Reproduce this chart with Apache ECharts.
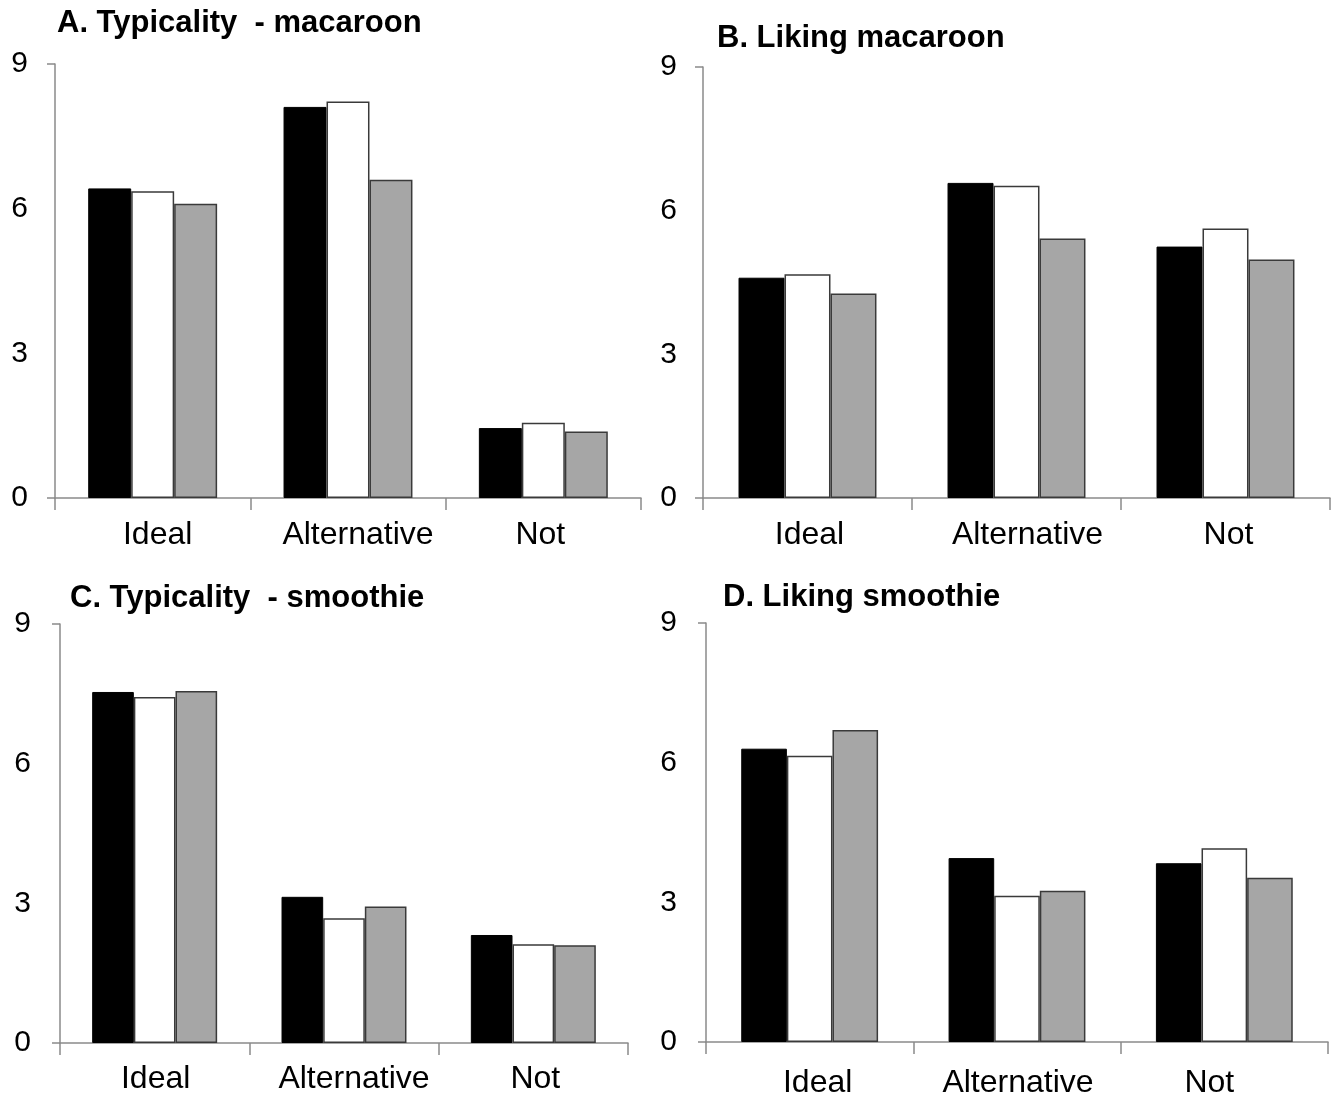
<!DOCTYPE html>
<html>
<head>
<meta charset="utf-8">
<title>Typicality and liking ratings</title>
<script src="https://cdn.jsdelivr.net/npm/echarts@6/dist/echarts.min.js"></script>
<style>
  html, body { margin: 0; padding: 0; background: #fff; }
  #chart { width: 1331px; height: 1099px; }
</style>
</head>
<body>
<div id="chart"></div>
<script>
// Categories and tick values shared by all four panels
const categories = ['Ideal', 'Alternative', 'Not'];
const yTicks = [0, 3, 6, 9];

// A. Typicality - macaroon
const typMacaroonBlack = [6.42, 8.11, 1.45];
const typMacaroonWhite = [6.36, 8.22, 1.56];
const typMacaroonGrey  = [6.10, 6.60, 1.38];

// B. Liking macaroon
const likMacaroonBlack = [4.60, 6.58, 5.25];
const likMacaroonWhite = [4.67, 6.52, 5.63];
const likMacaroonGrey  = [4.27, 5.42, 4.98];

// C. Typicality - smoothie
const typSmoothieBlack = [7.54, 3.14, 2.32];
const typSmoothieWhite = [7.43, 2.68, 2.12];
const typSmoothieGrey  = [7.56, 2.93, 2.10];

// D. Liking smoothie
const likSmoothieBlack = [6.30, 3.95, 3.84];
const likSmoothieWhite = [6.15, 3.14, 4.16];
const likSmoothieGrey  = [6.70, 3.25, 3.53];

const FONT = "'Liberation Sans', Arial, sans-serif";
const AXIS_COLOR = '#8a8a8a';
const CAT_FONT = 32;

// per-panel layout; labelShift nudges each category label sideways (px)
const panels = [
  { title: 'A. Typicality  - macaroon', tLeft: 57, tTop: 8,
    grid: { left: 55, right: 690, top: 64, bottom: 601 },
    yMargin: 27, xMargin: 21, labelShift: [5, 10, -3],
    data: [typMacaroonBlack, typMacaroonWhite, typMacaroonGrey] },
  { title: 'B. Liking macaroon', tLeft: 717, tTop: 23,
    grid: { left: 703, right: 1, top: 67, bottom: 601 },
    yMargin: 26, xMargin: 21, labelShift: [2, 11, 3],
    data: [likMacaroonBlack, likMacaroonWhite, likMacaroonGrey] },
  { title: 'C. Typicality  - smoothie', tLeft: 70, tTop: 583,
    grid: { left: 60, right: 703, top: 624, bottom: 56 },
    yMargin: 29, xMargin: 20, labelShift: [1, 10, 2],
    data: [typSmoothieBlack, typSmoothieWhite, typSmoothieGrey] },
  { title: 'D. Liking smoothie', tLeft: 723, tTop: 582,
    grid: { left: 706, right: 3, top: 623, bottom: 57 },
    yMargin: 29, xMargin: 25, labelShift: [8, 1, -15],
    data: [likSmoothieBlack, likSmoothieWhite, likSmoothieGrey] }
];

const barStyles = [
  { color: '#000000', borderColor: '#000000', borderWidth: 1 },
  { color: '#ffffff', borderColor: '#3a3a3a', borderWidth: 1.5 },
  { color: '#a6a6a6', borderColor: '#3a3a3a', borderWidth: 1.5 }
];

function shiftedRich(shifts) {
  const rich = {};
  shifts.forEach((dx, k) => {
    rich['s' + k] = {
      fontFamily: FONT, fontSize: CAT_FONT, color: '#000',
      padding: dx >= 0 ? [0, 0, 0, 2 * dx] : [0, -2 * dx, 0, 0]
    };
  });
  return rich;
}

const option = {
  backgroundColor: '#ffffff',
  animation: false,
  title: [], grid: [], xAxis: [], yAxis: [], series: []
};

panels.forEach((p, i) => {
  option.title.push({
    text: p.title, left: p.tLeft, top: p.tTop, padding: 0,
    textStyle: { fontFamily: FONT, fontSize: 31, fontWeight: 'bold', color: '#000' }
  });
  option.grid.push(Object.assign({ containLabel: false }, p.grid));

  option.xAxis.push({
    type: 'category', gridIndex: i, data: categories,
    axisLine: { show: true, lineStyle: { color: AXIS_COLOR, width: 1.5 } },
    axisTick: { show: true, alignWithLabel: false, interval: 0, length: 12,
                lineStyle: { color: AXIS_COLOR, width: 1.5 } },
    axisLabel: {
      interval: 0, hideOverlap: false,
      fontFamily: FONT, fontSize: CAT_FONT, color: '#000', margin: p.xMargin,
      formatter: (value, idx) => '{s' + idx + '|' + value + '}',
      rich: shiftedRich(p.labelShift)
    }
  });

  // value axis with the 0-3-6-9 labels
  option.yAxis.push({
    type: 'value', gridIndex: i, position: 'left',
    min: yTicks[0], max: yTicks[yTicks.length - 1],
    interval: yTicks[1] - yTicks[0],
    axisLine: { show: true, lineStyle: { color: AXIS_COLOR, width: 1.5 } },
    axisTick: { show: false },
    splitLine: { show: false },
    axisLabel: { fontFamily: FONT, fontSize: 30, color: '#000', margin: p.yMargin }
  });
  // companion axis carrying the end ticks at 0 and 9
  option.yAxis.push({
    type: 'value', gridIndex: i, position: 'left', offset: 0,
    min: yTicks[0], max: yTicks[yTicks.length - 1],
    interval: yTicks[yTicks.length - 1] - yTicks[0],
    axisLine: { show: false },
    axisTick: { show: true, length: 8, lineStyle: { color: AXIS_COLOR, width: 1.5 } },
    splitLine: { show: false },
    axisLabel: { show: false }
  });

  p.data.forEach((values, s) => {
    option.series.push({
      type: 'bar', xAxisIndex: i, yAxisIndex: i * 2,
      data: values,
      barGap: '0%', barCategoryGap: '34%',
      itemStyle: barStyles[s],
      emphasis: { disabled: true }
    });
  });
});

const chart = echarts.init(document.getElementById('chart'), null, { renderer: 'canvas' });
chart.setOption(option);
</script>
</body>
</html>
